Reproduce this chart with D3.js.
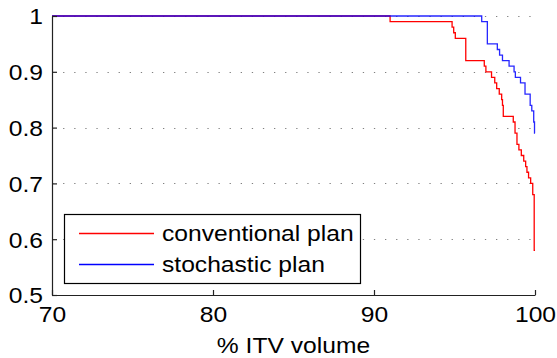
<!DOCTYPE html>
<html>
<head>
<meta charset="utf-8">
<script src="https://cdn.jsdelivr.net/npm/d3@7"></script>
<style>
  html, body { margin: 0; padding: 0; background: #fff; }
  svg { display: block; }
  text { font-family: "Liberation Sans", Arial, Helvetica, sans-serif; fill: #000; }
</style>
</head>
<body>
<svg id="chart" width="557" height="358"></svg>
<script>
// Fraction of scenarios (y) reaching each % of ITV volume (x); step points.
const conventionalX = [70, 91.0, 94.85, 94.95, 95.05, 95.7, 96.85, 96.95, 97.3, 97.5, 97.62, 97.78, 97.93, 97.98, 98.03,
                       98.65, 98.76, 98.88, 99.0, 99.15, 99.3, 99.42, 99.5, 99.6, 99.73, 99.86, 99.95, 100];
const conventionalY = [1.0, 0.99, 0.98, 0.97, 0.96, 0.92, 0.91, 0.90, 0.89, 0.88, 0.87, 0.86, 0.85, 0.84, 0.82,
                       0.81, 0.79, 0.77, 0.76, 0.75, 0.74, 0.73, 0.72, 0.71, 0.70, 0.68, 0.58, 0.58];
const stochasticX = [70, 96.69, 97.04, 97.66, 97.8, 97.98, 98.39, 98.7, 98.78, 99.1, 99.38, 99.7, 99.8, 99.92, 99.97, 100];
const stochasticY = [1.0, 0.99, 0.95, 0.94, 0.93, 0.92, 0.91, 0.90, 0.89, 0.88, 0.86, 0.84, 0.83, 0.81, 0.79, 0.79];

const xTicks = [70, 80, 90, 100];
const yTicks = [0.5, 0.6, 0.7, 0.8, 0.9, 1];
const seriesNames = ["conventional plan", "stochastic plan"];
const seriesColors = ["#ff0000", "#0000ff"];
const xLabel = "% ITV volume";

const svg = d3.select("#chart");
const plot = { left: 52, right: 535, top: 16, bottom: 295 };

const x = d3.scaleLinear().domain([70, 100]).range([plot.left, plot.right]);
const y = d3.scaleLinear().domain([0.5, 1]).range([plot.bottom, plot.top]);

const fontSize = 22;
const stretch = 1.12;

// dotted horizontal grid
svg.append("g").selectAll("line").data(yTicks).join("line")
  .attr("x1", plot.left).attr("x2", plot.right)
  .attr("y1", d => Math.round(y(d)) + 0.5).attr("y2", d => Math.round(y(d)) + 0.5)
  .attr("stroke", "#808080").attr("stroke-width", 1)
  .attr("stroke-dasharray", "1.3,9.8");

// step curves
const series = [
  { xs: conventionalX, ys: conventionalY, color: seriesColors[0] },
  { xs: stochasticX, ys: stochasticY, color: seriesColors[1] }
];
const line = d3.line().x(d => x(d[0])).y(d => y(d[1])).curve(d3.curveStepAfter);
series.forEach(s => {
  svg.append("path")
    .datum(s.xs.map((v, i) => [v, s.ys[i]]))
    .attr("fill", "none").attr("stroke", s.color).attr("stroke-width", 1.3)
    .attr("stroke-opacity", s.color === "#0000ff" ? 0.85 : 1)
    .attr("d", line);
});

// axes (inward ticks)
const xAxis = d3.axisBottom(x).tickValues(xTicks).tickSizeInner(-5).tickSizeOuter(0).tickPadding(10).tickFormat(d3.format("d"));
const yAxis = d3.axisLeft(y).tickValues(yTicks).tickSizeInner(-5).tickSizeOuter(0).tickPadding(10).tickFormat(d => d === 1 ? "1" : d3.format(".1f")(d));

const gx = svg.append("g").attr("transform", `translate(0,${plot.bottom})`).call(xAxis);
const gy = svg.append("g").attr("transform", `translate(${plot.left},0)`).call(yAxis);
[gx, gy].forEach(g => {
  g.select(".domain").attr("stroke", "#222").attr("stroke-width", 1.2);
  g.selectAll(".tick line").attr("stroke", "#222").attr("stroke-width", 1.2);
  g.selectAll(".tick text").attr("font-size", fontSize).attr("font-family", null).attr("fill", "#000");
});
gx.selectAll(".tick text").attr("y", 0).attr("dy", 0)
  .attr("transform", `translate(0,27) scale(${stretch},1)`);
gy.selectAll(".tick text").attr("x", 0).attr("dy", "0.36em")
  .attr("transform", `translate(-9,0) scale(${stretch},1)`);

// axis title
svg.append("text")
  .attr("transform", `translate(${(plot.left + plot.right) / 2},353) scale(${stretch},1)`)
  .attr("text-anchor", "middle").attr("font-size", fontSize)
  .text(xLabel);

// legend
const lg = svg.append("g");
lg.append("rect").attr("x", 64.5).attr("y", 214.5).attr("width", 296).attr("height", 69)
  .attr("fill", "#fff").attr("stroke", "#000").attr("stroke-width", 1.2);
seriesNames.forEach((name, i) => {
  const yy = 233.5 + i * 31;
  lg.append("line").attr("x1", 79).attr("x2", 154).attr("y1", yy).attr("y2", yy)
    .attr("stroke", seriesColors[i]).attr("stroke-width", 1.3);
  lg.append("text")
    .attr("transform", `translate(162,${yy + 7.5}) scale(${stretch},1)`)
    .attr("font-size", fontSize).text(name);
});
</script>
</body>
</html>
